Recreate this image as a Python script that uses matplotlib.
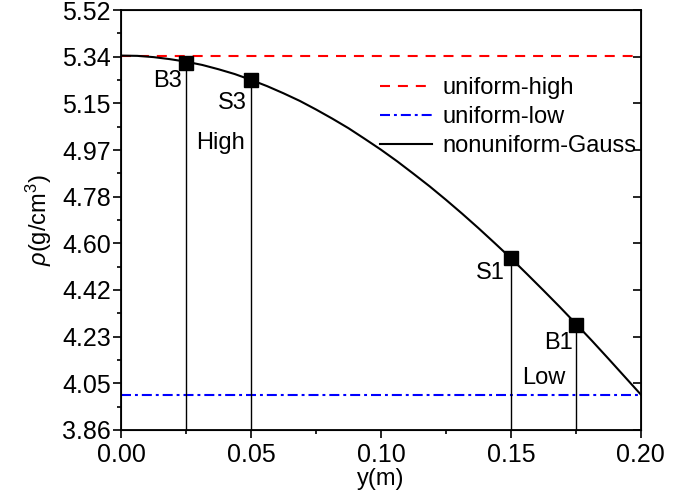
import numpy as np
import matplotlib
matplotlib.use("Agg")
import matplotlib.pyplot as plt

plt.rcParams["font.family"] = ["Liberation Sans", "DejaVu Sans"]
plt.rcParams["mathtext.fontset"] = "custom"
plt.rcParams["mathtext.rm"] = "Liberation Sans"
plt.rcParams["mathtext.it"] = "Liberation Sans:italic"

# density profile
y_pos = [0.0, 0.00625, 0.0125, 0.01875, 0.025, 0.03125, 0.0375, 0.04375,
         0.05, 0.05625, 0.0625, 0.06875, 0.075, 0.08125, 0.0875, 0.09375,
         0.1, 0.10625, 0.1125, 0.11875, 0.125, 0.13125, 0.1375, 0.14375,
         0.15, 0.15625, 0.1625, 0.16875, 0.175, 0.18125, 0.1875, 0.19375, 0.2]
rho_gauss = [5.340, 5.339, 5.334, 5.326, 5.316, 5.303, 5.286, 5.267,
             5.244, 5.219, 5.191, 5.161, 5.127, 5.091, 5.053, 5.011,
             4.968, 4.922, 4.873, 4.823, 4.770, 4.715, 4.658, 4.599,
             4.539, 4.476, 4.412, 4.347, 4.280, 4.212, 4.142, 4.071, 4.000]
rho_high = 5.34
rho_low = 4.00

# sample points
pt_names = ["B3", "S3", "S1", "B1"]
pt_y = [0.025, 0.05, 0.15, 0.175]
pt_rho = [5.31, 5.245, 4.54, 4.275]

y_ticks = [3.86, 4.05, 4.23, 4.42, 4.60, 4.78, 4.97, 5.15, 5.34, 5.52]
x_ticks = [0.00, 0.05, 0.10, 0.15, 0.20]

fs = 17
fig = plt.figure(figsize=(6.92, 5.04), dpi=100)
ax = fig.add_axes([0.175, 0.147, 0.751, 0.833])

ax.plot([0, 0.2], [rho_high, rho_high], color="red", lw=1.5,
        dashes=(4.8, 3.8), label="uniform-high")
ax.plot([0, 0.2], [rho_low, rho_low], color="blue", lw=1.5,
        dashes=(4.8, 1.9, 1.4, 1.9), label="uniform-low")
ax.plot(y_pos, rho_gauss, color="black", lw=1.5, label="nonuniform-Gauss")

ax.vlines(pt_y, 3.86, pt_rho, color="black", lw=1.0)
ax.plot(pt_y, pt_rho, "s", color="black", ms=10, ls="none")

# point labels
ax.text(0.0235, 5.239, "B3", ha="right", va="center", fontsize=fs)
ax.text(0.0485, 5.154, "S3", ha="right", va="center", fontsize=fs)
ax.text(0.0477, 4.996, "High", ha="right", va="center", fontsize=fs)
ax.text(0.1477, 4.48, "S1", ha="right", va="center", fontsize=fs)
ax.text(0.1738, 4.204, "B1", ha="right", va="center", fontsize=fs)
ax.text(0.1708, 4.066, "Low", ha="right", va="center", fontsize=fs)

ax.set_xlim(0, 0.2)
ax.set_ylim(3.86, 5.52)
ax.set_xticks(x_ticks)
ax.set_xticklabels(["%.2f" % v for v in x_ticks])
ax.set_xticks([0.025, 0.075, 0.125, 0.175], minor=True)
ax.set_yticks(np.linspace(3.86, 5.52, 10))
ax.set_yticklabels(["%.2f" % v for v in y_ticks])
ax.set_yticks(np.linspace(3.86, 5.52, 19)[1::2], minor=True)
ax.tick_params(which="major", direction="out", length=5.5, width=1.2,
               labelsize=18, pad=2)
ax.tick_params(axis="x", which="major", pad=4)
ax.tick_params(which="minor", direction="out", length=3, width=1.2)
for s in ax.spines.values():
    s.set_linewidth(1.3)

ax2 = ax.twinx()
ax2.set_ylim(3.86, 5.52)
ax2.set_yticks(np.linspace(3.86, 5.52, 10))
ax2.tick_params(direction="in", length=6, width=1.2, labelright=False)

ax.set_xlabel("y(m)", fontsize=fs, labelpad=1)
ax.set_ylabel(r"$\rho$(g/cm$^3$)", fontsize=fs, labelpad=6)

ax.legend(loc="upper left", bbox_to_anchor=(0.498, 0.84), frameon=False,
          fontsize=fs, handlelength=2.2, handletextpad=0.45,
          labelspacing=0.3, borderpad=0, borderaxespad=0)

fig.savefig("out.png", dpi=100)
